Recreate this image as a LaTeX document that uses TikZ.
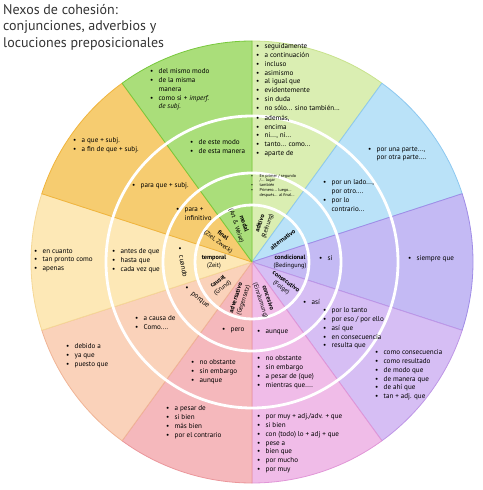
\documentclass[tikz,border=0pt]{standalone}
\usepackage{fontspec}
\setmainfont{PT Sans}
\usepackage{xcolor}

\definecolor{modalc}{RGB}{170,222,122}
\definecolor{modald}{RGB}{120,200,60}
\definecolor{aditc}{RGB}{218,238,178}
\definecolor{aditd}{RGB}{200,226,140}
\definecolor{altc}{RGB}{186,226,248}
\definecolor{altd}{RGB}{140,200,240}
\definecolor{condc}{RGB}{196,186,244}
\definecolor{condd}{RGB}{160,140,230}
\definecolor{consc}{RGB}{214,190,244}
\definecolor{consd}{RGB}{190,150,230}
\definecolor{concc}{RGB}{240,188,232}
\definecolor{concd}{RGB}{225,150,215}
\definecolor{advc}{RGB}{245,184,188}
\definecolor{advd}{RGB}{235,150,155}
\definecolor{causc}{RGB}{250,210,186}
\definecolor{causd}{RGB}{240,180,150}
\definecolor{tempc}{RGB}{253,232,182}
\definecolor{tempd}{RGB}{245,215,150}
\definecolor{finc}{RGB}{246,204,112}
\definecolor{find}{RGB}{240,180,60}

\newcommand{\itm}{\makebox[8.5pt][l]{\textbullet}}
\newcommand{\cnt}{\hspace*{8.5pt}}

\begin{document}
\begin{tikzpicture}[
    x=1pt, y=1pt,
    sector/.style={line width=0.8pt, line join=round},
    ring/.style={draw=white, line width=2.8pt},
    lst/.style={anchor=north west, inner sep=0pt, align=left, font=\fontsize{7.1}{8.8}\selectfont},
    tinylst/.style={anchor=north west, inner sep=0pt, align=left, font=\fontsize{4.2}{4.8}\selectfont},
    lbl/.style={align=center, inner sep=0pt, font=\fontsize{6.3}{7.9}\selectfont}
]
\useasboundingbox (-252,-228) rectangle (230,262);

% sectors
\filldraw[sector, fill=aditc, draw=aditd] (0,0) -- (54:221) arc[start angle=54, end angle=90, radius=221pt] -- cycle;
\filldraw[sector, fill=altc, draw=altd] (0,0) -- (18:221) arc[start angle=18, end angle=54, radius=221pt] -- cycle;
\filldraw[sector, fill=condc, draw=condd] (0,0) -- (-18:221) arc[start angle=-18, end angle=18, radius=221pt] -- cycle;
\filldraw[sector, fill=consc, draw=consd] (0,0) -- (-54:221) arc[start angle=-54, end angle=-18, radius=221pt] -- cycle;
\filldraw[sector, fill=concc, draw=concd] (0,0) -- (-90:221) arc[start angle=-90, end angle=-54, radius=221pt] -- cycle;
\filldraw[sector, fill=advc, draw=advd] (0,0) -- (-126:221) arc[start angle=-126, end angle=-90, radius=221pt] -- cycle;
\filldraw[sector, fill=causc, draw=causd] (0,0) -- (-162:221) arc[start angle=-162, end angle=-126, radius=221pt] -- cycle;
\filldraw[sector, fill=tempc, draw=tempd] (0,0) -- (162:221) arc[start angle=162, end angle=198, radius=221pt] -- cycle;
\filldraw[sector, fill=finc, draw=find] (0,0) -- (126:221) arc[start angle=126, end angle=162, radius=221pt] -- cycle;
\filldraw[sector, fill=modalc, draw=modald] (0,0) -- (90:221) arc[start angle=90, end angle=126, radius=221pt] -- cycle;

% white rings
\draw[ring] (0,0) circle[radius=57pt];
\draw[ring] (0,0) circle[radius=89pt];
\draw[ring] (0,0) circle[radius=146pt];

% title
\node[anchor=north west, inner sep=0pt, align=left, text=black!80, font=\fontsize{14}{16.5}\selectfont] (title) at (-249,258)
  {Nexos de cohesión:\\conjunciones, adverbios y\\locuciones preposicionales};

% centre labels
\node[lbl, rotate=-72] (modal) at (108:39) {\textbf{modal}\\(Art \& Weise)};
\node[lbl, rotate=72] (aditivo) at (72:39) {\textbf{aditivo}\\(Reihung)};
\node[lbl, rotate=36] (alternativo) at (36:38) {\textbf{alternativo}};
\node[lbl] (condicional) at (0:38) {\textbf{condicional}\\(Bedingung)};
\node[lbl, rotate=-36] (consecutivo) at (-36:39) {\textbf{consecutivo}\\(Folge)};
\node[lbl, rotate=-72] (concesivo) at (-72:39) {\textbf{concesivo}\\(Einräumung)};
\node[lbl, rotate=72] (adversativo) at (-108:39) {\textbf{adversativo}\\(Gegensatz)};
\node[lbl, rotate=36] (causal) at (-144:39) {\textbf{causal}\\(Grund)};
\node[lbl] (temporal) at (180:38) {\textbf{temporal}\\(Zeit)};
\node[lbl, rotate=-36] (final) at (144:39) {\textbf{final}\\(Ziel, Zweck)};

% modal
\node[lst] (modalB) at (-62,122.5) {\itm de este modo\\\itm de esta manera};
\node[lst] (modalC) at (-102,193.5) {\itm del mismo modo\\\itm de la misma\\\cnt manera\\\itm como si + \textit{imperf.}\\\cnt \textit{de subj.}};

% aditivo
\node[tinylst] (aditA) at (-1,88) {\itm En primer / segundo\\\cnt /... lugar\\\itm también\\\itm Primero... luego...\\\cnt después... al final...};
\node[lst] (aditB) at (4,147) {\itm además,\\\itm encima\\\itm ni..., ni...\\\itm tanto... como...\\\itm aparte de};
\node[lst] (aditC) at (4,218.5) {\itm seguidamente\\\itm a continuación\\\itm incluso\\\itm asimismo\\\itm al igual que\\\itm evidentemente\\\itm sin duda\\\itm no sólo... sino también...};

% alternativo
\node[lst] (altB) at (71,82.5) {\itm por un lado...,\\\cnt por otro....\\\itm por lo\\\cnt contrario...};
\node[lst] (altC) at (116,115.5) {\itm por una parte...,\\\cnt por otra parte....};

% condicional
\node[lst] (condA) at (67,6.5) {\itm si};
\node[lst] (condC) at (156,6.5) {\itm siempre que};

% consecutivo
\node[lst] (consA) at (51,-37.5) {\itm así};
\node[lst] (consB) at (71,-45.5) {\itm por lo tanto\\\itm por eso / por ello\\\itm así que\\\itm en consecuencia\\\itm resulta que};
\node[lst] (consC) at (123,-87.5) {\itm como consecuencia\\\itm como resultado\\\itm de\ modo que\\\itm de manera que\\\itm de ahí que\\\itm tan + adj. que};

% concesivo
\node[lst] (concA) at (5,-67.5) {\itm aunque};
\node[lst] (concB) at (5,-93.5) {\itm no obstante\\\itm sin embargo\\\itm a pesar de (que)\\\itm mientras que....};
\node[lst] (concC) at (5,-151.5) {\itm por muy + adj./adv. + que\\\itm si bien\\\itm con (todo) lo + adj + que\\\itm pese a\\\itm bien que\\\itm por mucho\\\itm por muy};

% adversativo
\node[lst] (advA) at (-30,-65.5) {\itm pero};
\node[lst] (advB) at (-61,-97.5) {\itm no obstante\\\itm sin embargo\\\itm aunque};
\node[lst] (advC) at (-86,-143.5) {\itm a pesar de\\\itm si bien\\\itm más bien\\\itm por el contrario};

% causal
\node[anchor=west, inner sep=0pt, rotate=-40, font=\fontsize{7.1}{8.8}\selectfont] (causA) at (-67,-26) {\itm porque};
\node[lst] (causB) at (-117,-53.5) {\itm a causa de\\\itm Como....};
\node[lst] (causC) at (-186,-81.5) {\itm debido a\\\itm ya que\\\itm puesto que};

% temporal
\node[anchor=west, inner sep=0pt, rotate=-80, font=\fontsize{7.1}{8.8}\selectfont] (tempA) at (-72,15) {\itm cuando};
\node[lst] (tempB) at (-140,13.5) {\itm antes de que\\\itm hasta que\\\itm cada vez que};
\node[lst] (tempC) at (-218,13.5) {\itm en cuanto\\\itm tan pronto como\\\itm apenas};

% final
\node[lst] (finA) at (-76,54.5) {\itm para +\\\cnt infinitivo};
\node[lst] (finB) at (-120,79.5) {\itm para que + subj.};
\node[lst] (finC) at (-179,124.5) {\itm a que + subj.\\\itm a fin de que + subj.};
\end{tikzpicture}
\end{document}
